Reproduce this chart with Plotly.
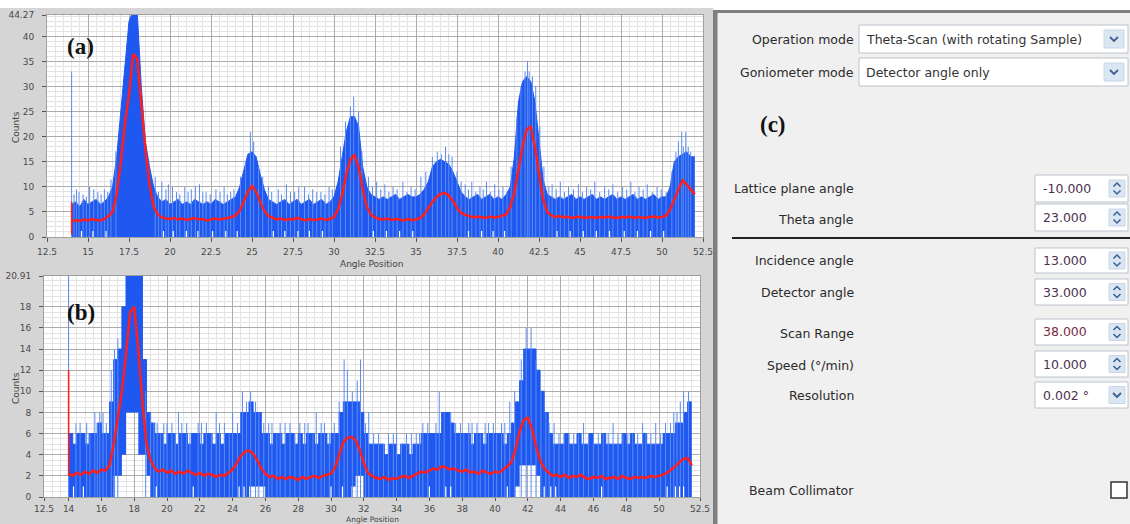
import plotly.graph_objects as go

W, H = 1130, 524


def px(x):
    return x / W


def py(y):
    return 1 - y / H


# ---------------- data ----------------
ANGLE_START = 14.0
ANGLE_STEP = 0.25

# (a) blue band upper envelope, per 0.25 deg from 14.0 to 52.0
TOP_UPPER = [
    6.5, 7.0, 6.0, 7.5, 6.5, 7.0, 7.5, 6.5, 7.0, 8.0, 10.0, 16.0,
    25.0, 33.0, 43.0, 45.0, 45.0, 30.0, 19.0, 14.0, 10.0, 8.0, 7.0, 7.5,
    6.5, 7.0, 7.5, 6.5, 7.0, 6.5, 7.5, 7.0, 6.5, 7.0, 6.5, 7.5,
    7.0, 6.5, 7.0, 7.5, 8.0, 10.0, 13.0, 16.5, 17.0, 16.0, 12.5, 9.5,
    7.5, 7.0, 6.5, 7.0, 7.5, 6.5, 7.0, 7.5, 6.5, 7.0, 7.5, 6.5,
    7.0, 7.5, 6.5, 7.0, 8.0, 11.0, 16.0, 21.0, 24.0, 24.0, 22.0, 14.0,
    10.0, 8.5, 8.0, 7.5, 8.0, 7.5, 8.0, 8.5, 7.5, 8.0, 8.5, 8.0,
    8.0, 8.5, 9.5, 11.0, 14.0, 15.0, 15.5, 15.0, 14.5, 13.0, 11.0, 9.0,
    8.0, 7.5, 8.0, 8.5, 7.5, 8.0, 8.5, 7.5, 8.0, 7.5, 8.5, 10.0,
    16.0, 27.0, 31.0, 32.0, 31.0, 27.0, 18.5, 11.5, 8.5, 8.0, 7.5, 8.0,
    7.5, 8.0, 8.5, 7.5, 8.0, 7.5, 8.0, 8.5, 7.5, 8.0, 7.5, 8.0,
    8.5, 7.5, 8.0, 7.5, 8.0, 8.5, 7.5, 8.0, 7.5, 8.0, 8.5, 7.5,
    8.0, 8.0, 10.0, 15.0, 16.0, 16.5, 17.0, 16.0, 16.0,
]
# (a) red smoothed curve
TOP_RED = [
    3.0, 3.4, 3.2, 3.5, 3.3, 3.6, 3.4, 3.3, 3.6, 4.2, 5.0, 8.5,
    15.0, 22.5, 28.5, 36.5, 35.5, 26.0, 17.5, 10.5, 6.0, 4.5, 3.9, 3.7,
    3.6, 3.8, 3.5, 3.7, 3.4, 3.6, 3.8, 3.5, 3.6, 3.3, 3.5, 3.7,
    3.5, 3.6, 3.8, 4.0, 4.3, 5.2, 7.0, 9.0, 10.2, 9.0, 7.0, 5.2,
    4.2, 3.8, 3.5, 3.7, 3.4, 3.6, 3.5, 3.8, 3.5, 3.3, 3.6, 3.4,
    3.5, 3.7, 3.4, 3.6, 4.0, 5.5, 8.5, 12.5, 15.5, 16.3, 14.0, 9.5,
    6.0, 4.5, 3.9, 3.6, 3.5, 3.7, 3.4, 3.6, 3.5, 3.3, 3.6, 3.4,
    3.5, 3.8, 4.5, 5.8, 7.0, 8.0, 8.6, 8.8, 8.3, 7.2, 5.8, 4.8,
    4.4, 4.2, 3.9, 4.1, 4.0, 3.8, 4.1, 3.9, 4.0, 4.2, 4.5, 6.0,
    9.0, 13.5, 18.0, 21.5, 22.0, 18.0, 12.5, 7.5, 5.0, 4.3, 4.0, 4.2,
    3.9, 4.1, 3.8, 4.0, 4.1, 3.8, 3.9, 4.0, 3.8, 4.0, 3.9, 4.1,
    3.9, 3.8, 4.0, 3.9, 4.1, 3.8, 4.0, 3.9, 3.8, 4.0, 4.1, 3.9,
    4.0, 4.3, 5.5, 7.5, 9.5, 11.3, 10.5, 9.5, 8.5,
]
# (a) isolated noise spikes: angle, count
TOP_SPIKE_X = [14.3, 14.7, 15.1, 15.6, 16.0, 16.4, 16.7, 19.1, 19.5, 19.9, 20.4, 20.9,
               21.3, 21.8, 22.2, 22.8, 23.3, 23.7, 24.9, 25.1, 26.0, 26.6, 27.1, 27.6,
               28.2, 28.7, 29.2, 29.7, 30.7, 31.2, 31.5, 32.1, 32.6, 33.1, 33.6, 34.2,
               34.7, 35.3, 36.3, 36.8, 37.2, 38.0, 38.4, 38.9, 39.3, 39.8, 40.3, 41.8,
               41.9, 42.1, 43.3, 43.8, 44.3, 44.9, 45.4, 45.9, 46.5, 47.0, 47.6, 48.1,
               48.6, 49.1, 49.7, 51.0, 51.2, 51.45, 51.6,
               14.15, 14.45, 14.9, 15.35, 15.8, 16.2, 19.3, 19.75, 20.15, 20.6, 21.1, 21.55,
               22.0, 22.45, 23.05, 23.5, 23.9, 24.3, 24.6, 25.4, 25.65, 26.2, 26.8, 27.35,
               27.85, 28.45, 28.95, 29.45, 29.9, 30.4, 31.0, 31.7, 32.35, 32.85, 33.35, 33.85,
               34.45, 34.95, 35.6, 36.0, 36.55, 37.0, 37.5, 37.75, 38.2, 38.65, 39.1, 39.55,
               40.05, 40.55, 40.8, 41.15, 41.4, 41.65, 42.3, 42.55, 42.8, 43.1, 43.55, 44.05,
               44.6, 45.15, 45.65, 46.2, 46.75, 47.3, 47.85, 48.35, 48.85, 49.4, 49.95, 50.25,
               50.6, 50.85, 51.3, 51.75]
TOP_SPIKE_Y = [9.5, 8.5, 10.0, 9.0, 9.5, 11.5, 17.0, 12.0, 11.0, 10.5, 9.0, 10.0,
               9.5, 10.5, 9.0, 9.5, 10.0, 9.0, 21.0, 19.0, 10.0, 9.5, 10.5, 9.0,
               10.0, 9.5, 9.0, 10.0, 23.0, 28.0, 25.0, 12.0, 11.0, 10.5, 10.0, 11.0,
               10.0, 12.0, 17.0, 18.0, 16.0, 10.5, 11.0, 10.0, 11.0, 10.5, 10.0, 35.0,
               33.0, 32.0, 10.5, 11.0, 10.0, 10.5, 10.0, 11.0, 10.0, 10.5, 10.0, 11.0,
               10.0, 10.5, 10.0, 19.0, 21.0, 21.0, 18.0,
               8.5, 9.0, 8.0, 9.5, 8.5, 9.0, 9.0, 9.5, 10.0, 8.5, 9.0, 10.0,
               9.0, 8.5, 9.0, 8.5, 9.5, 12.0, 15.0, 14.0, 12.0, 9.0, 8.5, 9.0,
               10.0, 8.5, 9.0, 8.5, 9.5, 18.0, 26.0, 17.0, 10.0, 9.5, 9.0, 9.5,
               9.0, 9.5, 13.0, 16.0, 16.5, 16.5, 13.0, 11.0, 9.5, 9.0, 9.5, 9.0,
               9.5, 9.0, 14.0, 24.0, 30.0, 33.0, 30.0, 22.0, 14.0, 10.0, 9.5, 9.0,
               9.5, 9.0, 9.5, 9.0, 9.5, 9.0, 9.5, 9.0, 9.5, 9.0, 9.5, 9.0,
               13.0, 17.0, 18.0, 17.0]
TOP_GAP_X = [14.6, 15.3, 16.1, 19.6, 20.2, 21.0, 21.7, 22.6, 23.4, 24.1, 26.3, 27.0,
             27.8, 28.5, 29.3, 32.4, 33.2, 34.0, 34.8, 38.2, 39.0, 39.7, 40.4, 43.6,
             44.4, 45.2, 46.0, 46.8, 47.7, 48.5, 49.3, 50.1]
TOP_GAP_H = 1.2
TOP_START_BLUE = 33.0
TOP_START_RED = 7.0

# (b) blue band upper and lower envelopes (integer counts)
BOT_UPPER = [
    6, 5, 6, 6, 5, 6, 6, 7, 6, 6, 9, 13,
    14, 18, 22, 22, 22, 22, 13, 8, 7, 6, 6, 5,
    6, 6, 5, 6, 6, 5, 6, 6, 5, 6, 6, 5,
    6, 5, 6, 6, 6, 6, 8, 8, 9, 8, 8, 6,
    6, 5, 6, 6, 5, 6, 6, 5, 6, 5, 6, 6,
    5, 6, 6, 5, 6, 6, 8, 9, 9, 9, 9, 8,
    6, 5, 5, 5, 5, 4, 5, 5, 4, 5, 5, 4,
    5, 5, 6, 6, 6, 6, 6, 8, 8, 7, 6, 6,
    6, 6, 5, 6, 6, 5, 6, 6, 6, 6, 5, 6,
    7, 9, 11, 14, 14, 14, 12, 10, 8, 6, 5, 5,
    5, 6, 5, 5, 6, 5, 5, 6, 5, 5, 6, 5,
    5, 5, 5, 6, 5, 6, 5, 5, 6, 5, 5, 5,
    5, 6, 6, 6, 7, 7, 8, 9, 9,
]
BOT_LOWER = [
    0, 0, 0, 0, 0, 0, 0, 0, 0, 0, 0, 2,
    2, 4, 8, 8, 8, 4, 4, 2, 0, 0, 0, 0,
    0, 0, 0, 0, 0, 0, 0, 0, 0, 0, 0, 0,
    0, 0, 0, 0, 0, 0, 0, 0, 1, 1, 1, 1,
    0, 0, 0, 0, 0, 0, 0, 0, 0, 0, 0, 0,
    0, 0, 0, 0, 0, 0, 0, 0, 0, 1, 2, 2,
    0, 0, 0, 0, 0, 0, 0, 0, 0, 0, 0, 0,
    0, 0, 0, 0, 0, 0, 0, 0, 0, 0, 0, 0,
    0, 0, 0, 0, 0, 0, 0, 0, 0, 0, 0, 0,
    0, 1, 3, 3, 3, 3, 2, 0, 0, 0, 0, 0,
    0, 0, 0, 0, 0, 0, 0, 0, 0, 0, 0, 0,
    0, 0, 0, 0, 0, 0, 0, 0, 0, 0, 0, 0,
    0, 0, 0, 0, 0, 0, 0, 0, 0,
]
BOT_RED = [
    2.2, 2.0, 2.3, 2.1, 2.4, 2.2, 2.5, 2.3, 2.6, 2.5, 3.0, 5.0,
    7.5, 10.0, 13.5, 17.5, 18.0, 14.0, 9.0, 5.0, 3.5, 2.7, 2.4, 2.6,
    2.3, 2.5, 2.2, 2.4, 2.2, 2.5, 2.3, 2.1, 2.3, 2.0, 2.2, 2.1,
    1.9, 2.1, 2.0, 2.3, 2.6, 3.2, 3.9, 4.3, 4.4, 4.1, 3.5, 2.7,
    2.2, 1.9, 2.0, 1.7, 1.9, 1.7, 1.9, 1.8, 1.6, 1.9, 1.7, 1.9,
    2.0, 1.8, 2.0, 2.1, 2.2, 2.8, 4.0, 5.2, 5.6, 5.7, 5.4, 4.5,
    3.2, 2.3, 2.0, 1.8, 1.7, 1.9, 1.6, 1.8, 1.7, 1.9, 2.0, 1.8,
    2.0, 2.2, 2.4, 2.3, 2.5, 2.7, 2.6, 2.9, 2.8, 2.6, 2.7, 2.5,
    2.4, 2.6, 2.3, 2.4, 2.2, 2.5, 2.3, 2.2, 2.4, 2.3, 2.6, 2.9,
    3.3, 4.5, 6.2, 7.3, 7.5, 6.5, 4.8, 3.5, 2.7, 2.3, 2.0, 2.1,
    1.9, 2.1, 1.8, 2.0, 1.9, 2.1, 1.8, 1.7, 1.9, 1.8, 2.0, 1.7,
    1.8, 1.9, 1.7, 2.0, 1.8, 1.7, 1.9, 1.8, 1.9, 1.8, 2.0, 1.9,
    2.0, 2.1, 2.3, 2.6, 2.9, 3.3, 3.6, 3.7, 3.0,
]
BOT_SPIKE_X = [14.7, 15.1, 15.6, 15.9, 16.3, 16.6, 16.8, 17.0, 18.7, 19.0, 19.4, 19.8,
               20.3, 20.7, 21.2, 21.9, 22.4, 23.0, 23.5, 24.0, 24.6, 25.1, 25.4, 25.9,
               26.4, 26.9, 27.5, 28.1, 28.6, 29.1, 29.6, 30.2, 30.8, 31.0, 31.8, 32.3,
               32.9, 33.5, 34.0, 34.6, 35.2, 35.6, 36.4, 36.6, 37.3, 37.9, 38.4, 38.9,
               39.4, 39.9, 40.4, 40.9, 41.9, 42.2, 42.8, 43.3, 43.9, 44.5, 45.1, 45.7,
               46.3, 46.9, 47.5, 48.1, 48.7, 49.2, 49.8, 50.4, 50.9, 51.5, 51.8,
               14.45, 15.3, 15.75, 16.1, 19.2, 19.6, 20.0, 20.5, 20.9, 21.4, 22.1, 22.7,
               23.2, 23.8, 24.3, 24.85, 25.6, 26.2, 26.7, 27.2, 27.8, 28.4, 28.9, 29.4,
               29.9, 30.5, 31.3, 31.6, 32.1, 32.6, 33.2, 33.8, 34.3, 34.9, 35.4, 35.9,
               36.9, 37.6, 38.1, 38.6, 39.1, 39.6, 40.1, 40.6, 41.2, 41.6, 42.5, 43.1,
               43.6, 44.2, 44.8, 45.4, 46.0, 46.6, 47.2, 47.8, 48.4, 49.0, 49.5, 50.1,
               50.7, 51.1, 51.3]
BOT_SPIKE_Y = [7, 7, 8, 8, 7, 12, 14, 15, 10, 8, 7, 7,
               7, 8, 7, 7, 7, 8, 7, 8, 10, 10, 9, 7,
               7, 7, 7, 7, 7, 8, 7, 7, 13, 12, 13, 8,
               6, 6, 6, 6, 6, 7, 7, 10, 8, 7, 7, 7,
               7, 7, 7, 9, 16, 16, 10, 7, 6, 6, 6, 6,
               6, 6, 6, 6, 6, 6, 7, 7, 8, 10, 10,
               7, 6, 7, 8, 7, 6, 7, 6, 7, 6, 7, 6,
               7, 6, 7, 9, 8, 7, 6, 7, 6, 7, 6, 7,
               6, 9, 10, 11, 7, 6, 5, 6, 5, 6, 6, 7,
               8, 7, 6, 7, 6, 7, 6, 7, 10, 13, 13, 8,
               7, 6, 6, 7, 6, 6, 7, 6, 6, 7, 6, 6,
               7, 8, 9]
BOT_GAP_X = [14.3, 14.9, 19.35, 21.6, 24.4, 24.7, 30.0, 30.7, 36.0, 37.0, 37.3, 40.75,
             43.0, 43.4, 43.7, 46.5, 50.5, 51.0, 51.25, 51.5]
BOT_GAP_H = 1.0
BOT_START_BLUE = 20.91
BOT_START_RED = 12.0

TOP_YMAX = 44.27
BOT_YMAX = 20.91
X_MIN, X_MAX = 12.5, 52.5
TOP_XTICKS = [12.5, 15, 17.5, 20, 22.5, 25, 27.5, 30, 32.5, 35, 37.5, 40, 42.5, 45, 47.5, 50, 52.5]
TOP_XTICK_TEXT = ["12.5", "15", "17.5", "20", "22.5", "25", "27.5", "30", "32.5", "35",
                  "37.5", "40", "42.5", "45", "47.5", "50", "52.5"]
TOP_YTICKS = [0, 5, 10, 15, 20, 25, 30, 35, 40, 44.27]
TOP_YTICK_TEXT = ["0", "5", "10", "15", "20", "25", "30", "35", "40", "44.27"]
BOT_XTICKS = [12.5, 14, 16, 18, 20, 22, 24, 26, 28, 30, 32, 34, 36, 38, 40, 42, 44, 46, 48, 50, 52.5]
BOT_XTICK_TEXT = ["12.5", "14", "16", "18", "20", "22", "24", "26", "28", "30", "32", "34",
                  "36", "38", "40", "42", "44", "46", "48", "50", "52.5"]
BOT_YTICKS = [0, 2, 4, 6, 8, 10, 12, 14, 16, 18, 20.91]
BOT_YTICK_TEXT = ["0", "2", "4", "6", "8", "10", "12", "14", "16", "18", "20.91"]

# panel (c) settings
MODE_LABELS = ["Operation mode", "Goniometer mode"]
MODE_VALUES = ["Theta-Scan (with rotating Sample)", "Detector angle only"]
PARAM_LABELS = ["Lattice plane angle", "Theta angle", "Incidence angle", "Detector angle",
                "Scan Range", "Speed (°/min)", "Resolution"]
PARAM_VALUES = ["-10.000", "23.000", "13.000", "33.000", "38.000", "10.000", "0.002 °"]

ANGLE = [ANGLE_START + ANGLE_STEP * i for i in range(len(TOP_UPPER))]

BLUE = "#1f58f0"
BLUE_LIGHT = "#5b8cf2"
RED = "#ff1e1e"


def spike_xy(xs, ys, base=0.0):
    X, Y = [], []
    for x, y in zip(xs, ys):
        X += [x, x, None]
        Y += [base, y, None]
    return X, Y


fig = go.Figure()


def add_panel(xa, ya, upper, lower, red, sx, sy, gx, gh, start_blue, start_red, red_base, shape):
    fig.add_trace(go.Scatter(x=ANGLE, y=lower, mode="lines", line=dict(width=0, shape="hv", color=BLUE),
                             xaxis=xa, yaxis=ya, hoverinfo="skip"))
    fig.add_trace(go.Scatter(x=ANGLE, y=upper, mode="lines", fill="tonexty", fillcolor=BLUE,
                             line=dict(width=1, shape=shape, color=BLUE), xaxis=xa, yaxis=ya,
                             hoverinfo="skip"))
    X, Y = spike_xy(sx, sy)
    fig.add_trace(go.Scatter(x=X, y=Y, mode="lines", line=dict(width=1, color=BLUE_LIGHT),
                             xaxis=xa, yaxis=ya, hoverinfo="skip"))
    X, Y = spike_xy(gx, [gh] * len(gx))
    fig.add_trace(go.Scatter(x=X, y=Y, mode="lines", line=dict(width=1.2, color="white"),
                             xaxis=xa, yaxis=ya, hoverinfo="skip"))
    X, Y = spike_xy([ANGLE_START], [start_blue])
    fig.add_trace(go.Scatter(x=X, y=Y, mode="lines", line=dict(width=1, color=BLUE_LIGHT),
                             xaxis=xa, yaxis=ya, hoverinfo="skip"))
    fig.add_trace(go.Scatter(x=ANGLE, y=red, mode="lines", line=dict(width=2.5, color=RED),
                             xaxis=xa, yaxis=ya, hoverinfo="skip"))
    X, Y = spike_xy([ANGLE_START], [start_red], base=red_base)
    fig.add_trace(go.Scatter(x=X, y=Y, mode="lines", line=dict(width=1.5, color=RED),
                             xaxis=xa, yaxis=ya, hoverinfo="skip"))


add_panel("x", "y", TOP_UPPER, [0] * len(TOP_UPPER), TOP_RED, TOP_SPIKE_X, TOP_SPIKE_Y,
          TOP_GAP_X, TOP_GAP_H, TOP_START_BLUE, TOP_START_RED, 0.5, "linear")
add_panel("x2", "y2", BOT_UPPER, BOT_LOWER, BOT_RED, BOT_SPIKE_X, BOT_SPIKE_Y,
          BOT_GAP_X, BOT_GAP_H, BOT_START_BLUE, BOT_START_RED, 2.0, "hv")

tickfont = dict(family="DejaVu Sans", size=9, color="#4a4a4a")


def axis(domain, rng, tickvals, ticktext, minor_vals, anchor, standoff=2, ticklen=4):
    return dict(domain=domain, range=rng, tickmode="array", tickvals=tickvals, ticktext=ticktext,
                showline=True, linecolor="#a0a0a0", mirror=True, ticks="outside", ticklen=ticklen,
                tickcolor="#555555", tickfont=tickfont, showgrid=True, gridcolor="#adadad",
                gridwidth=1, zeroline=False, fixedrange=True, anchor=anchor,
                ticklabelstandoff=standoff,
                minor=dict(tickmode="array", tickvals=minor_vals, showgrid=True,
                           gridcolor="#e4e4e4", ticks=""))


fig.update_layout(
    width=W, height=H, margin=dict(l=0, r=0, t=0, b=0, autoexpand=False),
    paper_bgcolor="white", plot_bgcolor="white", showlegend=False,
    xaxis=axis([px(47), px(703)], [X_MIN, X_MAX], TOP_XTICKS, TOP_XTICK_TEXT,
               [X_MIN + 0.5 * i for i in range(81)], "y"),
    yaxis=axis([py(237), py(15)], [0, TOP_YMAX], TOP_YTICKS, TOP_YTICK_TEXT,
               list(range(0, 45)), "x", standoff=6),
    xaxis2=axis([px(44), px(700)], [X_MIN, X_MAX], BOT_XTICKS, BOT_XTICK_TEXT,
                [X_MIN + 0.5 * i for i in range(81)], "y2", standoff=0, ticklen=3),
    yaxis2=axis([py(497), py(276)], [0, BOT_YMAX], BOT_YTICKS, BOT_YTICK_TEXT,
                [0.5 * i for i in range(42)], "x2", standoff=6),
)

shapes = []
ann = []


def rect(x0, y0, x1, y1, fill, line=None, lw=1, layer="above"):
    shapes.append(dict(type="rect", xref="paper", yref="paper", x0=px(x0), x1=px(x1),
                       y0=py(y1), y1=py(y0), fillcolor=fill,
                       line=dict(width=lw if line else 0, color=line or fill), layer=layer))


def seg(x0, y0, x1, y1, color, width, layer="above"):
    shapes.append(dict(type="line", xref="paper", yref="paper", x0=px(x0), x1=px(x1),
                       y0=py(y0), y1=py(y1), line=dict(color=color, width=width), layer=layer))


def path(points, color, width=1.5):
    d = "M " + " L ".join(f"{px(x):.5f},{py(y):.5f}" for x, y in points)
    shapes.append(dict(type="path", xref="paper", yref="paper", path=d,
                       line=dict(color=color, width=width)))


def text(x, y, s, size=12.5, color="#2b2b2b", anchor="left", family="DejaVu Sans", angle=0,
         yanchor="middle", pad=1):
    ann.append(dict(x=px(x), y=py(y), xref="paper", yref="paper", text=s, showarrow=False,
                    xanchor=anchor, yanchor=yanchor, textangle=angle, borderpad=pad,
                    font=dict(family=family, size=size, color=color)))


# gray frame behind the two graphs (kept inside the page)
rect(0, 8, 713, H, "#d5d5d5", layer="below")
# white plot areas (axis-referenced, so they sit above the gray frame)
for xr, yr, ymax in (("x", "y", TOP_YMAX), ("x2", "y2", BOT_YMAX)):
    shapes.append(dict(type="rect", xref=xr, yref=yr, x0=X_MIN, x1=X_MAX, y0=0, y1=ymax,
                       fillcolor="white", line=dict(width=0), layer="below"))

# right settings panel with dark left/top border
rect(713, 10, W, H, "#f0f0f0", layer="below")
rect(713, 10, 717.5, H, "#7f7f7f", layer="below")
rect(713, 10, W, 13, "#7f7f7f", layer="below")

# axis titles and panel letters
text(16, 127, "Counts", size=9, color="#444", anchor="center", angle=-90)
text(16, 388, "Counts", size=9, color="#444", anchor="center", angle=-90)
text(372, 264, "Angle Position", size=9, color="#444", anchor="center")
text(372, 524.5, "Angle Position", size=7.5, color="#444", anchor="center", yanchor="bottom", pad=0)
text(80, 47, "<b>(a)</b>", size=23, color="#111", anchor="center", family="Liberation Serif")
text(81, 312, "<b>(b)</b>", size=23, color="#111", anchor="center", family="Liberation Serif")
text(773, 124, "<b>(c)</b>", size=23, color="#111", anchor="center", family="Liberation Serif")

# drop-down rows
for (lab, val), (y0, y1) in zip(zip(MODE_LABELS, MODE_VALUES), [(25, 53), (58, 86)]):
    yc = (y0 + y1) / 2
    text(856, yc, lab, anchor="right")
    rect(859, y0, 1128, y1, "white", line="#bcc3cc", lw=1)
    text(864, yc, val, color="#333")
    rect(1104, yc - 9, 1124, yc + 9, "#dbe6f3", line="#c9d6e6", lw=1)
    path([(1110, yc - 2), (1114, yc + 2), (1118, yc - 2)], "#3d5f91", 1.8)

# separator line
seg(732, 238, W, 238, "#222", 2)

# numeric rows
rows = [(175, 202), (204, 231), (248, 273), (279, 305), (319, 345), (351, 377), (382, 408)]
label_dy = [0, 1.5, 0, 0, 1, 1, 0]
for i, ((y0, y1), lab, val) in enumerate(zip(rows, PARAM_LABELS, PARAM_VALUES)):
    yc = (y0 + y1) / 2
    text(856, yc + label_dy[i], lab, anchor="right")
    rect(1035, y0, 1128, y1, "white", line="#bcc3cc", lw=1)
    vcol = "#7a2b44" if lab == "Scan Range" else "#4d3150"
    text(1041, yc, val, size=12.5, color=vcol)
    rect(1109, yc - 8.5, 1125, yc + 8.5, "#dbe6f3", line="#c9d6e6", lw=1)
    if lab == "Resolution":
        path([(1113, yc - 2), (1117, yc + 2), (1121, yc - 2)], "#3d5f91", 1.8)
    else:
        path([(1113.5, yc - 2), (1117, yc - 5.5), (1120.5, yc - 2)], "#3d5f91", 1.5)
        path([(1113.5, yc + 2), (1117, yc + 5.5), (1120.5, yc + 2)], "#3d5f91", 1.5)

# beam collimator
text(856, 490, "Beam Collimator", anchor="right")
rect(1111, 482, 1127, 498, "white", line="#333", lw=1.5)

fig.update_layout(shapes=shapes, annotations=ann)
fig.write_html("out.html", config={"responsive": False, "displayModeBar": False})
